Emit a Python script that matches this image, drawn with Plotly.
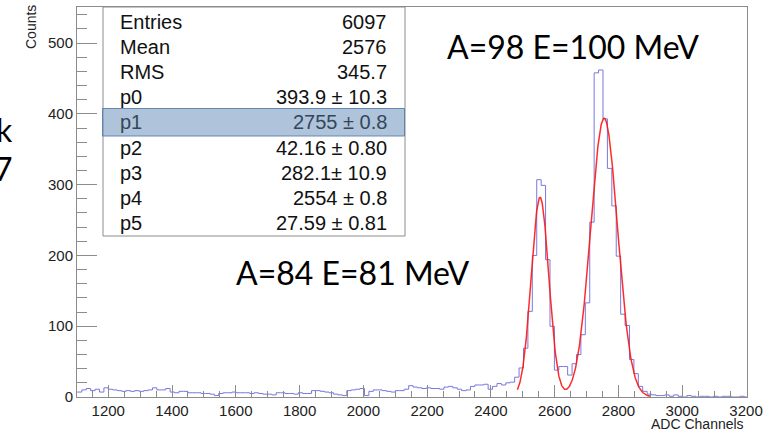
import numpy as np
import plotly.graph_objects as go

# ---------------- data ----------------
bin_start = 1089.4
bin_width = 13.85
counts = [
    7,
    7, 10, 12, 9, 11, 7, 13, 11, 10, 9, 8, 9, 8, 9, 8, 9, 10, 13, 10, 10,
    12, 7, 6, 8, 8, 6, 6, 6, 5, 5, 4, 2, 5, 6, 6, 7, 6, 6,
    6,
    5, 6, 5, 4, 4, 3, 6, 6, 5, 5, 4, 6, 5, 5, 9, 9, 8, 7, 6, 4, 3, 2,
    9, 10, 11, 12, 2, 8, 10, 10, 9, 8, 7, 9, 9, 11, 16, 14, 13, 12, 13,
    12, 12, 11, 14, 15,
    13,
    11, 9, 10, 15, 17, 17, 18, 11, 15, 19,
    17, 20, 21, 28, 41, 69, 121, 200, 307, 299,
    194, 100, 38, 43, 43, 31, 47, 60, 88, 133, 247, 458, 462, 393, 323,
    270, 199, 117, 101, 53, 33, 15, 8, 4, 3, 2, 2, 3, 1, 3, 1, 0, 2, 1,
    0, 1, 1, 0, 1, 0, 1, 1, 0, 0, 1, 0,
]

fit_names = ["p0", "p1", "p2", "p3", "p4", "p5"]
fit_values = [393.9, 2755, 42.16, 282.1, 2554, 27.59]
fit_errors = ["393.9 \u00b1 10.3", "2755 \u00b1 0.8", "42.16 \u00b1 0.80",
              "282.1\u00b1 10.9", "2554 \u00b1 0.8", "27.59 \u00b1 0.81"]
fit_range = [2483, 2900]

stat_names = ["Entries", "Mean", "RMS"]
stat_values = ["6097", "2576", "345.7"]

x_ticks = [1200, 1400, 1600, 1800, 2000, 2200, 2400, 2600, 2800, 3000, 3200]
y_ticks = [0, 100, 200, 300, 400, 500]

peak_labels = ["A=98 E=100 MeV", "A=84 E=81 MeV"]
side_labels = ["k", "7"]

# ---------------- geometry helpers (pixel -> paper) ----------------
W, H = 771, 435
L, R, T, B = 77, 24, 7, 38
PW, PH = W - L - R, H - T - B


def px(x):
    return (x - L) / PW


def py(y):
    return (H - B - y) / PH


edges = [bin_start + bin_width * i for i in range(len(counts) + 1)]
hist_y = counts + [counts[-1]]

p0, p1, p2, p3, p4, p5 = fit_values
xf = np.linspace(fit_range[0], fit_range[1], 400)
yf = p0 * np.exp(-0.5 * ((xf - p1) / p2) ** 2) + p3 * np.exp(-0.5 * ((xf - p4) / p5) ** 2)

fig = go.Figure()
fig.add_trace(go.Scatter(x=edges, y=hist_y, mode="lines", line_shape="hv",
                         line=dict(color="#7878de", width=1), hoverinfo="skip"))
fig.add_trace(go.Scatter(x=xf, y=yf, mode="lines",
                         line=dict(color="rgba(255,20,20,0.9)", width=1.5), hoverinfo="skip"))

axis_col = "#8c8c8c"
tick_font = dict(family="Liberation Sans, Arial, sans-serif", size=15, color="#222222")

fig.update_layout(
    width=W, height=H,
    margin=dict(l=L, r=R, t=T, b=B, autoexpand=False),
    paper_bgcolor="white", plot_bgcolor="white",
    showlegend=False,
    xaxis=dict(range=[1102, 3203], showline=True, linecolor=axis_col, linewidth=1, mirror=True,
               ticks="inside", ticklen=12, tickcolor=axis_col, tickwidth=1,
               tickvals=x_ticks, ticktext=[str(v) for v in x_ticks], tickfont=tick_font,
               showgrid=False, zeroline=False, automargin=False,
               minor=dict(ticks="inside", ticklen=6, dtick=50, tick0=0, tickcolor=axis_col,
                          showgrid=False)),
    yaxis=dict(range=[0, 551], showline=True, linecolor=axis_col, linewidth=1, mirror=True,
               ticks="inside", ticklen=20, tickcolor=axis_col, tickwidth=1,
               tickvals=y_ticks, ticktext=[str(v) for v in y_ticks], tickfont=tick_font,
               showgrid=False, zeroline=False, automargin=False,
               minor=dict(ticks="inside", ticklen=10, dtick=20, tick0=0, tickcolor=axis_col,
                          showgrid=False)),
)

# stats box
fig.add_shape(type="rect", xref="paper", yref="paper", layer="above",
              x0=px(103), x1=px(405), y0=py(236), y1=py(7),
              fillcolor="white", line=dict(color=axis_col, width=1))
fig.add_shape(type="rect", xref="paper", yref="paper", layer="above",
              x0=px(102.5), x1=px(404.5), y0=py(136), y1=py(108.5),
              fillcolor="rgba(95,138,182,0.5)", line=dict(color="rgba(80,122,168,0.85)", width=1))

stat_font = dict(family="Liberation Sans, Arial, sans-serif", size=20, color="#111111")
rows_l = stat_names + fit_names
rows_r = stat_values + fit_errors
for i, (a, b) in enumerate(zip(rows_l, rows_r)):
    yc = 22 + 25.1 * i
    col = "#34475a" if a == "p1" else "#111111"
    fig.add_annotation(xref="paper", yref="paper", x=px(117.5), y=py(yc), text=a,
                       showarrow=False, xanchor="left", yanchor="middle",
                       font=dict(stat_font, color=col))
    fig.add_annotation(xref="paper", yref="paper", x=px(389), y=py(yc), text=b,
                       showarrow=False, xanchor="right", yanchor="middle",
                       font=dict(stat_font, color=col))

big_font = dict(family="Lato, Open Sans, sans-serif", size=32, color="black")
fig.add_annotation(xref="paper", yref="paper", x=px(573), y=py(47), text=peak_labels[0],
                   showarrow=False, xanchor="center", yanchor="middle", font=big_font)
fig.add_annotation(xref="paper", yref="paper", x=px(353), y=py(272), text=peak_labels[1],
                   showarrow=False, xanchor="center", yanchor="middle", font=big_font)
fig.add_annotation(xref="paper", yref="paper", x=px(15), y=py(129), text=side_labels[0],
                   showarrow=False, xanchor="right", yanchor="middle", font=big_font)
fig.add_annotation(xref="paper", yref="paper", x=px(15), y=py(168), text=side_labels[1],
                   showarrow=False, xanchor="right", yanchor="middle", font=big_font)

axt_font = dict(family="Liberation Sans, Arial, sans-serif", size=14, color="#222222")
fig.add_annotation(xref="paper", yref="paper", x=px(31), y=py(3), text="Counts",
                   showarrow=False, textangle=-90, xanchor="center", yanchor="top", font=axt_font)
fig.add_annotation(xref="paper", yref="paper", x=px(746), y=py(424), text="ADC Channels",
                   showarrow=False, xanchor="right", yanchor="middle", font=axt_font)

fig.write_html("out.html", config={"displayModeBar": False},
               post_script="document.body.style.margin='0';document.body.style.padding='0';"
                           "document.body.style.overflow='hidden';")
